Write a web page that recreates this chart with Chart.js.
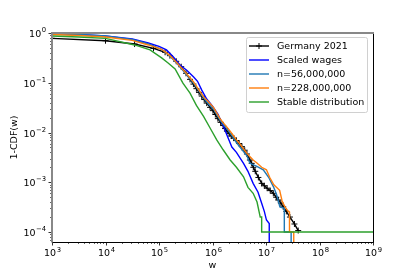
<!DOCTYPE html>
<html>
<head>
<meta charset="utf-8">
<script src="https://cdn.jsdelivr.net/npm/chart.js@4.4.1/dist/chart.umd.min.js"></script>
<style>
  body { margin: 0; background: #fff; }
  #wrap { width: 415px; height: 277px; }
</style>
</head>
<body>
<div id="wrap"><canvas id="myChart" width="415" height="277"></canvas></div>
<script>
// series (w, 1-CDF(w))
const germanyW = [1e3, 1e4, 3.5e4, 7.9e4, 1.3e5, 1.6e5, 2.1e5, 2.6e5, 3.2e5, 3.8e5, 4.4e5, 5.0e5, 5.6e5, 6.3e5, 7.0e5, 7.8e5, 9.0e5, 1.02e6, 1.13e6, 1.26e6, 1.42e6, 1.58e6, 1.72e6, 1.86e6, 2.05e6, 2.24e6, 2.5e6, 2.8e6, 3.15e6, 3.55e6, 4.0e6, 4.4e6, 5.0e6, 5.4e6, 5.8e6, 6.3e6, 7.2e6, 8.3e6, 9.3e6, 1.05e7, 1.2e7, 1.37e7, 1.55e7, 1.7e7, 1.9e7, 2.1e7, 2.4e7, 2.8e7, 3.4e7, 4.0e7];
const germanyP = [0.78, 0.70, 0.60, 0.49, 0.41, 0.35, 0.27, 0.21, 0.155, 0.117, 0.094, 0.076, 0.064, 0.054, 0.046, 0.039, 0.032, 0.0275, 0.023, 0.019, 0.016, 0.0138, 0.012, 0.0107, 0.0095, 0.0085, 0.0077, 0.0069, 0.006, 0.0052, 0.0044, 0.0037, 0.0028, 0.0024, 0.002, 0.00166, 0.00125, 0.00095, 0.00085, 0.00076, 0.00068, 0.0006, 0.0005, 0.00044, 0.00038, 0.00032, 0.00026, 0.0002, 0.000145, 0.000107];

const scaledW = [1e3, 3.16e3, 1e4, 3.16e4, 6.3e4, 1e5, 1.38e5, 1.86e5, 2.5e5, 3.3e5, 4.4e5, 5.25e5, 6.3e5, 7.8e5, 1e6, 1.26e6, 1.58e6, 1.86e6, 2.3e6, 2.8e6, 3.8e6, 4.6e6, 5.75e6, 7.1e6, 8.3e6, 9.3e6, 1.02e7, 1.15e7, 1.15e7];
const scaledP = [0.99, 0.93, 0.87, 0.76, 0.63, 0.54, 0.457, 0.33, 0.224, 0.178, 0.132, 0.107, 0.071, 0.047, 0.034, 0.0234, 0.0138, 0.0089, 0.0051, 0.004, 0.0024, 0.00166, 0.00095, 0.00063, 0.00038, 0.00026, 0.000174, 0.000148, 1e-6];

const n56W = [1e3, 3.16e3, 1e4, 3.16e4, 6.3e4, 1.12e5, 1.58e5, 2.24e5, 3.16e5, 4.4e5, 5.6e5, 6.8e5, 8.3e5, 1.05e6, 1.38e6, 1.58e6, 2.0e6, 2.45e6, 2.8e6, 3.2e6, 4.4e6, 5.0e6, 6.6e6, 8.9e6, 1.12e7, 1.38e7, 1.58e7, 1.82e7, 2.2e7, 2.2e7, 2.95e7, 2.95e7];
const n56P = [0.98, 0.93, 0.87, 0.74, 0.6, 0.47, 0.347, 0.234, 0.151, 0.1, 0.068, 0.05, 0.038, 0.0295, 0.0178, 0.0148, 0.0107, 0.0079, 0.0063, 0.0052, 0.0034, 0.0024, 0.0021, 0.00178, 0.00126, 0.00081, 0.00056, 0.00032, 0.0003, 0.0001, 0.0001, 1e-6];

const n228W = [1e3, 3.16e3, 1e4, 3.16e4, 6.3e4, 1.12e5, 1.58e5, 2.24e5, 3.16e5, 4.4e5, 5.6e5, 6.8e5, 8.3e5, 1.05e6, 1.38e6, 1.58e6, 2.0e6, 2.45e6, 2.8e6, 3.2e6, 4.4e6, 5.75e6, 6.6e6, 8.3e6, 1.02e7, 1.17e7, 1.4e7, 1.8e7, 2.0e7, 2.26e7, 2.6e7, 2.75e7, 2.75e7, 3.3e7, 3.3e7];
const n228P = [0.93, 0.89, 0.83, 0.71, 0.575, 0.47, 0.355, 0.24, 0.158, 0.105, 0.071, 0.052, 0.042, 0.0316, 0.019, 0.0158, 0.0117, 0.0087, 0.0071, 0.006, 0.0038, 0.0028, 0.0025, 0.002, 0.00178, 0.00126, 0.00089, 0.00069, 0.00042, 0.00032, 0.00026, 0.00025, 0.0001, 0.0001, 1e-6];

const stableW = [1e3, 3.16e3, 1e4, 3.5e4, 6.8e4, 1.12e5, 1.48e5, 2.0e5, 2.8e5, 3.8e5, 5.0e5, 6.8e5, 8.9e5, 1.2e6, 1.58e6, 2.14e6, 2.8e6, 3.8e6, 4.6e6, 5.75e6, 6.8e6, 7.8e6, 8.3e6, 8.3e6, 1e9];
const stableP = [0.87, 0.83, 0.78, 0.575, 0.457, 0.316, 0.25, 0.19, 0.098, 0.062, 0.035, 0.021, 0.0126, 0.0071, 0.0045, 0.0028, 0.002, 0.00129, 0.00079, 0.0006, 0.0004, 0.0002, 0.0002, 0.0001, 0.0001];

const xDecades = [3, 4, 5, 6, 7, 8, 9];
const yDecades = [0, -1, -2, -3, -4];

const pts = (ws, ps) => ws.map((w, i) => ({ x: w, y: ps[i] }));

const FONT = '"DejaVu Sans", sans-serif';

function drawPow(ctx, exp, x, y, align) {
    const base = '10';
    const sup = String(exp).replace('-', '\u2212');
    ctx.font = '9.5px ' + FONT;
    const bw = ctx.measureText(base).width;
    ctx.font = '6.8px ' + FONT;
    const sw = ctx.measureText(sup).width;
    const total = bw + sw + 0.5;
    let x0 = x - total / 2;
    if (align === 'right') x0 = x - total;
    ctx.textBaseline = 'middle';
    ctx.textAlign = 'left';
    ctx.font = '9.5px ' + FONT;
    ctx.fillText(base, x0, y + 1);
    ctx.font = '6.8px ' + FONT;
    ctx.fillText(sup, x0 + bw + 0.5, y - 3);
}

const axesPlugin = {
    id: 'mplAxes',
    afterDraw(chart) {
        const ctx = chart.ctx;
        const a = chart.chartArea;
        const xs = chart.scales.x, ys = chart.scales.y;
        ctx.save();
        ctx.fillStyle = '#000';
        ctx.strokeStyle = '#000';

        // ticks
        ctx.lineWidth = 0.8;
        xDecades.forEach(d => {
            const px = Math.round(xs.getPixelForValue(Math.pow(10, d))) + 0.5;
            ctx.beginPath(); ctx.moveTo(px, a.bottom); ctx.lineTo(px, a.bottom + 3.5); ctx.stroke();
            drawPow(ctx, d, px, a.bottom + 11, 'center');
            if (d < 9) {
                ctx.lineWidth = 0.6;
                for (let k = 2; k <= 9; k++) {
                    const mx = Math.round(xs.getPixelForValue(k * Math.pow(10, d))) + 0.5;
                    ctx.beginPath(); ctx.moveTo(mx, a.bottom); ctx.lineTo(mx, a.bottom + 2); ctx.stroke();
                }
                ctx.lineWidth = 0.8;
            }
        });
        yDecades.forEach(d => {
            const py = Math.round(ys.getPixelForValue(Math.pow(10, d))) + 0.5;
            ctx.beginPath(); ctx.moveTo(a.left, py); ctx.lineTo(a.left - 3.5, py); ctx.stroke();
            drawPow(ctx, d, a.left - 6, py, 'right');
            ctx.lineWidth = 0.6;
            for (let k = 2; k <= 9; k++) {
                const v = k * Math.pow(10, d - 1);
                if (v < ys.min) continue;
                const my = Math.round(ys.getPixelForValue(v)) + 0.5;
                ctx.beginPath(); ctx.moveTo(a.left, my); ctx.lineTo(a.left - 2, my); ctx.stroke();
            }
            ctx.lineWidth = 0.8;
        });

        // spines
        ctx.lineWidth = 1;
        ctx.strokeStyle = '#000';
        ctx.beginPath();
        ctx.moveTo(a.left, a.bottom + 0.5); ctx.lineTo(a.right + 0.5, a.bottom + 0.5);
        ctx.lineTo(a.right + 0.5, a.top);
        ctx.stroke();
        ctx.strokeStyle = '#888';
        ctx.lineWidth = 2;
        ctx.beginPath();
        ctx.moveTo(a.left, a.bottom + 0.5); ctx.lineTo(a.left, a.top); ctx.lineTo(a.right + 1, a.top);
        ctx.stroke();

        // axis labels
        ctx.fillStyle = '#000';
        ctx.font = '9.5px ' + FONT;
        ctx.textAlign = 'center';
        ctx.textBaseline = 'middle';
        ctx.fillText('w', (a.left + a.right) / 2, 266);
        ctx.save();
        ctx.translate(15, (a.top + a.bottom) / 2);
        ctx.rotate(-Math.PI / 2);
        ctx.fillText('1-CDF(w)', 0, 0);
        ctx.restore();

        // legend
        const bx = 246.5, by = 37.5, bw = 121, bh = 75;
        ctx.fillStyle = 'rgba(255,255,255,0.8)';
        ctx.strokeStyle = '#d0d0d0';
        ctx.lineWidth = 1;
        ctx.beginPath();
        ctx.roundRect(bx, by, bw, bh, 2);
        ctx.fill(); ctx.stroke();
        chart.data.datasets.forEach((ds, i) => {
            const ry = 46 + i * 14;
            ctx.strokeStyle = ds.borderColor;
            ctx.lineWidth = 1.4;
            ctx.beginPath(); ctx.moveTo(249, ry); ctx.lineTo(269, ry); ctx.stroke();
            if (ds.pointRadius > 0) {
                ctx.lineWidth = 1;
                ctx.beginPath();
                ctx.moveTo(259, ry - 3); ctx.lineTo(259, ry + 3);
                ctx.moveTo(256, ry); ctx.lineTo(262, ry);
                ctx.stroke();
            }
            ctx.fillStyle = '#000';
            ctx.font = '9.5px ' + FONT;
            ctx.textAlign = 'left';
            ctx.textBaseline = 'middle';
            ctx.fillText(ds.label, 277, ry + 0.5);
        });
        ctx.restore();
    }
};

const ctx = document.getElementById('myChart').getContext('2d');
const myChart = new Chart(ctx, {
    type: 'line',
    data: {
        datasets: [
            {
                label: 'Germany 2021',
                data: pts(germanyW, germanyP),
                borderColor: '#000000',
                borderWidth: 1.4,
                pointStyle: 'cross',
                pointRadius: 3,
                pointBorderWidth: 1,
                pointBorderColor: '#000000',
                order: 5
            },
            {
                label: 'Scaled wages',
                data: pts(scaledW, scaledP),
                borderColor: '#0000ff',
                borderWidth: 1.4,
                pointRadius: 0,
                order: 4
            },
            {
                label: 'n=56,000,000',
                data: pts(n56W, n56P),
                borderColor: '#1f77b4',
                borderWidth: 1.4,
                pointRadius: 0,
                order: 3
            },
            {
                label: 'n=228,000,000',
                data: pts(n228W, n228P),
                borderColor: '#ff7f0e',
                borderWidth: 1.4,
                pointRadius: 0,
                order: 2
            },
            {
                label: 'Stable distribution',
                data: pts(stableW, stableP),
                borderColor: '#2ca02c',
                borderWidth: 1.4,
                pointRadius: 0,
                order: 1
            }
        ]
    },
    options: {
        responsive: false,
        animation: false,
        devicePixelRatio: 1,
        layout: { padding: { top: 33, right: 42, left: 0, bottom: 0 } },
        elements: { line: { tension: 0, fill: false } },
        scales: {
            x: {
                type: 'logarithmic',
                min: 1e3,
                max: 1e9,
                grid: { display: false },
                border: { display: false },
                ticks: { display: false },
                afterFit: s => { s.height = 35; }
            },
            y: {
                type: 'logarithmic',
                min: 6.3e-5,
                max: 1,
                grid: { display: false },
                border: { display: false },
                ticks: { display: false },
                afterFit: s => { s.width = 52; }
            }
        },
        plugins: {
            legend: { display: false },
            tooltip: { enabled: false }
        }
    },
    plugins: [axesPlugin]
});
</script>
</body>
</html>
